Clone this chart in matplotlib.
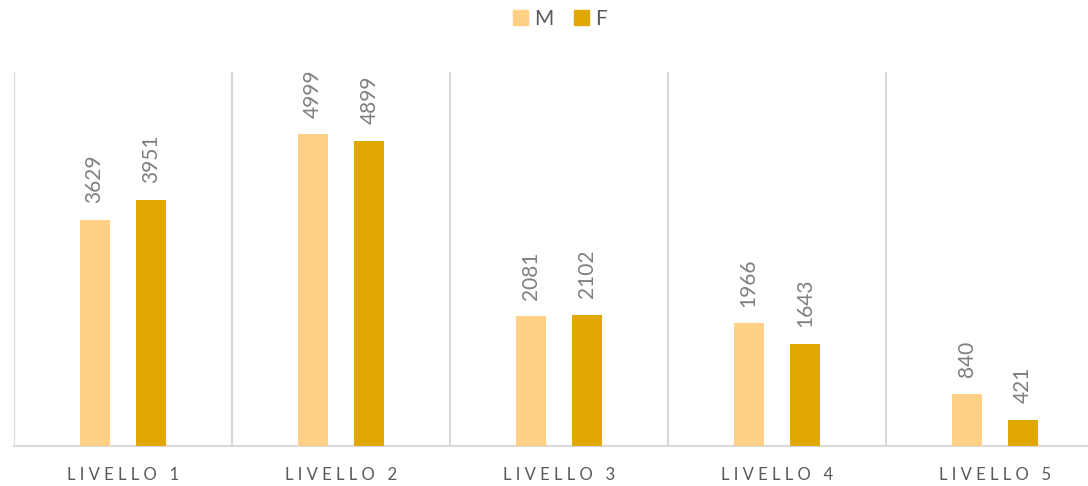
import matplotlib
matplotlib.use("Agg")
import matplotlib.pyplot as plt
import numpy as np
from matplotlib.patches import Patch

# data
categories = ["LIVELLO 1", "LIVELLO 2", "LIVELLO 3", "LIVELLO 4", "LIVELLO 5"]
values_m = [3629, 4999, 2081, 1966, 840]
values_f = [3951, 4899, 2102, 1643, 421]

COLOR_M = "#FFD086"
COLOR_F = "#E0A800"
GRID = "#D9D9D9"
FONT = ["Lato", "DejaVu Sans"]

plt.rcParams["font.family"] = FONT

fig = plt.figure(figsize=(10.88, 4.86), dpi=100)
ax = fig.add_axes([14 / 1088, 1 - 446 / 486, 1 - 14 / 1088, (446 - 72) / 486])

x = np.arange(len(categories))
width = 0.138
off = 0.13

bars_m = ax.bar(x - off, values_m, width, color=COLOR_M, zorder=3)
bars_f = ax.bar(x + off, values_f, width, color=COLOR_F, zorder=3)

for bars in (bars_m, bars_f):
    for b in bars:
        ax.annotate(f"{int(b.get_height())}",
                    xy=(b.get_x() + b.get_width() / 2, b.get_height()),
                    xytext=(0, 12), textcoords="offset points",
                    rotation=90, ha="center", va="bottom",
                    fontsize=15, color="#7F7F7F")

ax.set_xlim(-0.5, 4.427)
ax.set_ylim(0, 6000)

# category separators
for i in range(len(categories)):
    ax.axvline(i - 0.5, color=GRID, linewidth=1.5, zorder=1)

for side in ("top", "right", "left"):
    ax.spines[side].set_visible(False)
ax.spines["bottom"].set_color(GRID)
ax.spines["bottom"].set_linewidth(1.5)

ax.set_yticks([])
ax.set_xticks(x)
spaced = [" ".join(list(c)) for c in categories]
ax.set_xticklabels(spaced, fontsize=12, color="#595959")
ax.tick_params(axis="x", length=0, pad=15)

handles = [Patch(color=COLOR_M, label="M"), Patch(color=COLOR_F, label="F")]
fig.legend(handles=handles, loc="center", bbox_to_anchor=(560 / 1088, 1 - 19 / 486),
           ncol=2, frameon=False, fontsize=15, handlelength=0.7, handleheight=0.7,
           handletextpad=0.3, columnspacing=1.0, labelcolor="#595959")

fig.savefig("out.png", dpi=100)
